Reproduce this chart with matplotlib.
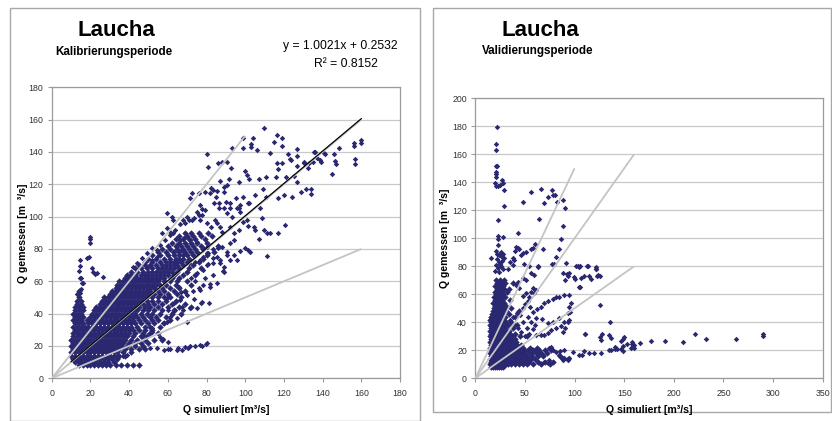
import matplotlib
matplotlib.use("Agg")
import matplotlib.pyplot as plt
from matplotlib.patches import Rectangle

plt.rcParams['font.family'] = ['Liberation Sans', 'DejaVu Sans']

# ---------------- Kalibrierungsperiode (left) ----------------
# dense cloud: observed level and the simulated values found at that level
cal_core_obs = [8, 10, 12, 14, 16, 18, 20, 22, 24, 26, 28, 30, 32, 34, 36, 38, 40, 42, 44,
                46, 48, 50, 52, 54, 56, 58, 60, 62, 64, 66, 68, 70, 72, 74, 76, 78, 80, 82,
                84, 86, 88, 90]
cal_core_sim = [
    [14, 16, 18, 20, 22, 24, 26, 28, 30, 33, 36, 39, 42, 45],
    [12, 14, 15, 17, 19, 21, 23, 25, 27, 29, 32],
    [11, 13, 15, 17, 19, 21, 23, 25, 27, 29, 31, 34],
    [10, 12, 14, 16, 18, 20, 22, 24, 26, 28, 30, 32, 35, 38],
    [10, 12, 14, 16, 18, 20, 22, 24, 26, 28, 30, 32, 34, 37, 41],
    [11, 13, 15, 17, 19, 21, 23, 25, 27, 29, 31, 33, 35, 38, 41, 45, 48],
    [10, 12, 14, 16, 18, 20, 22, 24, 26, 28, 30, 32, 34, 36, 39, 43, 47],
    [11, 13, 15, 17, 19, 21, 23, 25, 27, 29, 31, 33, 35, 37, 40, 43, 46, 50],
    [10, 12, 14, 16, 18, 20, 22, 24, 26, 28, 30, 32, 34, 36, 38, 41, 44, 48, 53, 57],
    [11, 13, 15, 17, 19, 21, 23, 25, 27, 29, 31, 33, 35, 37, 39, 42, 46, 49],
    [11, 13, 14, 16, 18, 20, 22, 24, 26, 28, 30, 32, 34, 36, 38, 40, 43, 47, 51, 55],
    [12, 14, 16, 18, 20, 22, 24, 26, 28, 30, 32, 34, 36, 38, 40, 42, 45, 48, 52],
    [11, 13, 15, 17, 19, 21, 23, 25, 27, 29, 31, 33, 35, 37, 39, 41, 44, 48, 51, 56],
    [12, 14, 16, 19, 21, 23, 25, 27, 29, 31, 33, 35, 37, 39, 41, 43, 46, 50, 53, 58],
    [11, 13, 15, 18, 20, 22, 24, 26, 28, 30, 32, 34, 36, 38, 40, 42, 45, 48, 52, 55, 61],
    [12, 14, 16, 20, 22, 24, 26, 28, 30, 32, 34, 36, 38, 40, 42, 44, 47, 51, 54, 59],
    [11, 13, 15, 21, 23, 25, 27, 29, 31, 33, 35, 37, 39, 41, 43, 46, 49, 52, 56, 62, 67],
    [12, 14, 16, 22, 24, 26, 28, 30, 32, 34, 36, 38, 40, 42, 44, 47, 50, 53, 57, 63],
    [12, 14, 16, 23, 25, 27, 29, 31, 33, 35, 37, 39, 41, 43, 45, 48, 51, 55, 60, 66, 72],
    [13, 15, 25, 27, 29, 31, 33, 35, 37, 39, 41, 43, 45, 47, 50, 53, 57, 62, 69],
    [13, 15, 26, 28, 30, 32, 34, 36, 38, 40, 42, 44, 46, 49, 52, 55, 59, 64],
    [14, 27, 29, 31, 33, 35, 37, 39, 41, 43, 45, 47, 49, 52, 55, 58, 61, 67],
    [30, 32, 34, 36, 38, 40, 42, 44, 46, 48, 50, 53, 56, 60, 65],
    [14, 31, 33, 35, 37, 39, 41, 43, 45, 47, 49, 51, 55, 58, 63, 69],
    [33, 35, 37, 39, 41, 43, 45, 47, 49, 51, 53, 57, 61, 66],
    [34, 36, 38, 40, 42, 44, 46, 48, 50, 52, 54, 56, 59, 64, 72],
    [35, 37, 39, 41, 43, 45, 47, 49, 51, 53, 55, 58, 61, 65, 70],
    [38, 40, 42, 44, 46, 48, 50, 52, 54, 56, 58, 62, 66],
    [39, 41, 43, 46, 48, 50, 52, 54, 56, 58, 60, 63, 68, 74],
    [41, 44, 47, 50, 52, 54, 56, 58, 60, 62, 65, 70],
    [43, 46, 49, 52, 55, 57, 59, 61, 63, 66, 71, 77],
    [45, 48, 51, 54, 57, 59, 61, 63, 65, 68, 73],
    [48, 52, 56, 59, 61, 63, 65, 67, 70, 76],
    [50, 54, 58, 61, 64, 66, 68, 71, 78],
    [52, 56, 60, 63, 66, 68, 70, 73, 80],
    [55, 59, 63, 66, 69, 72, 75, 84],
    [57, 61, 65, 68, 71, 74, 78],
    [60, 64, 67, 70, 73, 77, 86],
    [62, 66, 69, 72, 75, 80],
    [64, 68, 71, 74, 79],
    [66, 70, 73, 77, 83],
    [69, 72, 76, 81],
]

# scattered points outside the dense cloud (simulated, observed)
cal_scatter = [
    (109.5, 154.6), (99.1, 148.5), (103.8, 148.5), (116.2, 150.5), (119, 148.5), (115, 146.4),
    (119.1, 143.7), (103.1, 144.7), (103.1, 142.9), (93.4, 142.3), (99.1, 142.3), (106, 141.2),
    (112.6, 139.2), (121.9, 138.6), (126.7, 141.6), (126.7, 137.7), (123.3, 135.5), (130.2, 134),
    (130.5, 133), (135.3, 140.2), (138.8, 134.8), (139.3, 133.8), (141.4, 138.6), (146, 138.8),
    (146.2, 134.6), (147.1, 132.6), (148.3, 142.3), (144.8, 126.2), (156, 145.4), (156.4, 143.7),
    (156.6, 135.5), (156.9, 132.6), (159.8, 147.4), (160, 145.8), (80.5, 138.6), (81, 130.5),
    (86.2, 133.4), (87.9, 134), (90.5, 134), (92.6, 130.3), (99.7, 128.5), (100.9, 125.8),
    (102.1, 123.1), (96.6, 121.2), (87.1, 122.3), (91.4, 123.1), (106.9, 123.1), (110.9, 124.3),
    (116, 124.3), (116.4, 133), (119, 133.4), (116.7, 129.3), (123.8, 135), (121.2, 124.3),
    (125, 125.2), (126.7, 131.3), (126.7, 121.6), (132.8, 133), (132.2, 130.3), (135, 134),
    (136.2, 140.2), (137.1, 136.1), (140.5, 139.2), (129, 115.5), (131.2, 116.9), (133.8, 116.9),
    (133.8, 114), (110.9, 112.4), (116.9, 111.3), (119.8, 113.4), (124.1, 112.4), (109.1, 117.1),
    (105.2, 113.4), (101.4, 108.7), (102.2, 108.2), (97.4, 107.2), (95.7, 105.2), (97, 105.2),
    (99.1, 112), (95, 111.3), (92.4, 108.7), (90.2, 109.3), (86.4, 108.7), (84.1, 108.7),
    (85, 112.2), (83.3, 116.5), (82.4, 117.5), (81.6, 114.4), (85.3, 116.1), (89.3, 118.6),
    (90.5, 119.6), (88.8, 115), (79.2, 115.5), (86.7, 105.2), (89, 105.2), (91.9, 105.2),
    (107.8, 105.2), (76.7, 107.2), (77.6, 104.7), (71.6, 111.3), (72.4, 114.4), (75.9, 114.4),
    (75, 103.1), (75.9, 101), (67.8, 97.9), (69, 96.3), (63.8, 91.8), (62.9, 89.7), (61.2, 88.7),
    (66.4, 95.3), (69.8, 100), (70.7, 97.9), (72.4, 97.9), (73.3, 99), (76.4, 97.9), (77.6, 101),
    (79.3, 104.1), (80.2, 95.9), (82.2, 93.4), (84.5, 97.9), (85.3, 96.3), (87.1, 93.8),
    (88.1, 90.7), (92.2, 93.8), (94, 89.7), (96.6, 91.8), (90.5, 102.1), (93.1, 100), (97.4, 103.1),
    (99.1, 96.9), (100.9, 97.9), (101.7, 94.2), (104.3, 93.8), (105.2, 91.8), (108.6, 99),
    (109.5, 91.8), (111.2, 89.7), (112.9, 90.1), (117.2, 89.7), (120.7, 94.8), (106.9, 86),
    (111.2, 75.7), (101.7, 79.4), (102.6, 78.4), (97.4, 79), (100, 80.4), (92.2, 83.5), (94, 85.6),
    (88, 81.4), (90.5, 78.4), (85.3, 75.3), (87.1, 73.2), (94, 76.3), (95.7, 73.2), (83.6, 71.1),
    (80.2, 70.1), (92.2, 73.2), (88.8, 69.1), (83.6, 79.8), (86.2, 80.4), (80.2, 81.4),
    (77.6, 81.4), (75, 84.5), (71.6, 85.6), (69, 87.6), (66.4, 85.6), (65.5, 82.5), (67.2, 79.4),
    (62.9, 78.4), (60.3, 76.3), (78.4, 75.3), (81, 77.3), (76.7, 73.2), (74.1, 72.2), (70.7, 71.1),
    (54.3, 79.4), (56, 82.5), (58.6, 85.6), (61.2, 90.7), (59.5, 92.8), (56.9, 89.7), (51.7, 80.4),
    (49.1, 77.3), (46.6, 74.2), (44, 71.1), (45.7, 69.1), (42.2, 69.1), (51.7, 73.2), (54.3, 75.3),
    (62.9, 97.9), (62.1, 100), (59.5, 102),
    (19.8, 87.6), (19.8, 85.9), (19.8, 83.9), (18.5, 74.6), (14.4, 73.2), (14.4, 69.7),
    (14.1, 66.6), (15, 61.8), (16, 59), (19.5, 74.8), (20.7, 68), (21.5, 65.5), (22.4, 64.3),
    (26.7, 62.4), (14.6, 61.8), (15.5, 59.1), (23.3, 64.9), (14.5, 53), (15, 55.5), (13, 52),
    (69, 53.6), (73.3, 48.9), (77.2, 46.8), (81.4, 46.4), (88.4, 66.6), (81, 71), (83.6, 64),
    (78.4, 57.7), (82, 58.6), (73, 54), (76, 56), (66, 56.7), (67, 53.6), (60, 42.3), (63, 46.4),
    (59.5, 49.5), (69.8, 35), (63.8, 42.3), (68.1, 42.3), (71.5, 43.3), (77.6, 47.4), (66.4, 48.5),
    (69.8, 51.5), (76.7, 54.6), (81.9, 56.7), (85.3, 58.8), (88.8, 66), (87.1, 71.1), (90.5, 76.3),
    (83.6, 74.2), (80.2, 77.3), (75, 43.3), (67.2, 44.3), (61.2, 38.1), (62.9, 41.2), (57.7, 34),
    (59.5, 35), (64.6, 37.1), (72, 62), (75, 65), (78, 67), (70, 66), (66, 62), (74, 60), (79, 62),
    (30, 13.8), (33.6, 13.8), (37, 13.8), (38.8, 14.5), (47.4, 19.5), (50.9, 18.5), (54.3, 18.5),
    (57.8, 17.5), (60.3, 18), (64.6, 17.5), (67.2, 17.8), (70.6, 18.5), (74.1, 20), (77.5, 20),
    (79.9, 21.5), (61.2, 17.9), (65.4, 18.6), (69, 19.4), (71.5, 20.2), (76.6, 20.4), (80, 22.1),
    (57.7, 24.1), (60.3, 22.7), (56, 25.8), (51.7, 31), (51.7, 28.9), (46.6, 25.8), (47.4, 26.8),
]

cal_slope = 1.0021
cal_intercept = 0.2532
cal_r2 = 0.8152
cal_fit_range = [10, 160]

# ---------------- Validierungsperiode (right) ----------------
val_core_obs = [8, 10, 12, 14, 16, 18, 20, 22, 24, 26, 28, 30, 32, 34, 36, 38, 40, 42, 44,
                46, 48, 50, 52, 54, 56, 58, 60, 62, 64, 66, 68, 70]
val_core_sim = [
    [16, 18, 20, 22, 24, 26, 28],
    [15, 17, 19, 21, 23, 25, 27, 29, 31, 33, 36, 40, 44, 48, 52, 58, 66, 75],
    [16, 18, 20, 22, 24, 26, 28, 30, 32, 34, 37, 40, 43, 46, 50, 54, 63, 70, 78],
    [15, 17, 19, 21, 23, 25, 27, 29, 31, 33, 35, 38, 41, 44, 47, 51, 56, 60, 88, 93],
    [16, 18, 20, 22, 24, 26, 28, 30, 32, 34, 36, 39, 42, 45, 48, 52, 57, 63, 68, 85],
    [15, 17, 19, 21, 23, 25, 27, 29, 31, 33, 35, 38, 41, 44, 47, 50, 55, 61, 66, 72],
    [16, 18, 20, 22, 24, 26, 28, 30, 32, 34, 36, 39, 42, 45, 49, 53, 58, 64, 70, 76],
    [15, 17, 19, 21, 23, 25, 27, 29, 31, 33, 36, 40, 44, 48, 55, 62],
    [16, 18, 20, 22, 24, 26, 28, 30, 32, 35, 38, 42, 46],
    [15, 17, 19, 21, 23, 25, 27, 29, 31, 34, 37, 41],
    [16, 18, 20, 22, 24, 26, 28, 30, 33, 36, 40],
    [15, 17, 19, 21, 23, 25, 27, 30, 33, 37, 45, 52],
    [16, 18, 20, 22, 24, 26, 29, 32, 35, 40],
    [15, 17, 19, 21, 23, 25, 28, 31, 34],
    [16, 18, 20, 22, 24, 27, 30, 38],
    [15, 17, 19, 21, 23, 26, 29, 33, 42],
    [16, 18, 20, 22, 24, 27, 31, 36],
    [15, 17, 19, 22, 25, 28],
    [16, 18, 20, 23, 26, 30, 40],
    [17, 19, 22, 25, 28, 34],
    [18, 21, 24, 27, 31, 44],
    [19, 22, 25, 29, 36],
    [20, 23, 27, 31],
    [18, 21, 25, 29],
    [20, 23, 27, 35],
    [19, 22, 26, 30],
    [21, 24, 28],
    [20, 23, 27, 32],
    [22, 25, 29, 34],
    [20, 24, 28],
    [22, 26, 30, 38],
    [21, 25, 29],
]

val_scatter = [
    (21.5, 179.3), (20.8, 167.4), (20.8, 163), (20.8, 151.6), (22.2, 151.6), (20.8, 147.6),
    (20.8, 146), (20.8, 144), (19.8, 139.3), (20.8, 137.6), (23.2, 137.4), (24.9, 138.1),
    (27.2, 141.7), (27.6, 139.3), (28.9, 134.5), (29.2, 123), (23.2, 113), (23.2, 101.6),
    (23.2, 99.3), (27.6, 101.1), (22.5, 95.2), (15.5, 85.7),
    (21, 91), (22, 89), (24, 88), (26, 90), (27, 87), (28, 89), (22, 85), (24, 83), (25, 82),
    (27, 84), (29, 86), (21, 81), (23, 79), (26, 80), (28, 78), (20, 77), (24, 76),
    (43.4, 104), (48.4, 126.1), (56.1, 133.4), (66.1, 135.1), (68.8, 124.9), (72.9, 129.2),
    (77.3, 134.2), (77.9, 130.6), (80.6, 130.6), (81.9, 126.1), (88.6, 127.3), (90.3, 121.4),
    (88.6, 108.8), (86.4, 99.3), (84.4, 92.1), (81.3, 86.9), (77.3, 81.7), (79.3, 81.7),
    (91.3, 82.7), (101.4, 80.5), (104.8, 79.8), (113.2, 80.5), (121.6, 77.8), (64.5, 113.5),
    (68.5, 92.1), (60.5, 95.9), (56.1, 92.1), (57.8, 93.3), (51.1, 90.5), (47.7, 89.3), (46, 88.3),
    (40.4, 91.2), (42.7, 92.8), (44.4, 92.1), (41, 94), (39.3, 84.5), (37.7, 80.9), (54.4, 80.2),
    (62.8, 80.2), (49.4, 81.9), (35, 83), (38, 86), (33, 78),
    (289.5, 32), (290, 30), (262.6, 28.3), (232.4, 28), (221.7, 32), (209.3, 26), (191.6, 26.7),
    (177, 26.8), (166, 25), (157.8, 24.5), (159.2, 22.8), (160.2, 21.4), (156.7, 21.6),
    (153.1, 24.5), (157.6, 26.1), (159.9, 24), (150.3, 29.2), (149.2, 28), (146.6, 26.5),
    (148.5, 23), (146.8, 20.7), (148.5, 19.7), (141.1, 22.1), (142.5, 21.1), (136.7, 20.2),
    (134.4, 20.2), (136.4, 28.6), (126.7, 27.4), (125.7, 29.2), (135, 30.9), (135.7, 40.4),
    (127.3, 31.4), (110.5, 31.4), (126.7, 17.8), (120, 18.3), (114.2, 18.3), (109.8, 19.7),
    (104.1, 16.7), (107.8, 16.6), (140.7, 20.7), (98.1, 19), (89.7, 20.2), (85.3, 19.7),
    (111, 31.6), (125.7, 52.6),
    (105.5, 80.2), (112.8, 80.5), (106.5, 71.4), (109.5, 73.1), (114.5, 73.1), (116.5, 70.7),
    (121.3, 77.9), (122.3, 73.1), (123.9, 74), (125.6, 73.3), (105.5, 65),
    (94.7, 59.5), (89.7, 59.5), (84.7, 58.3), (81.3, 57.8), (77.9, 56.4), (72.9, 55.4),
    (69.5, 53.5), (66.1, 51.2), (61.8, 49.2), (58.4, 47.6), (96.4, 53.5), (94.7, 51.2),
    (95.4, 47.6), (93.1, 46.4), (94.7, 41.6), (93.1, 40.4), (89.7, 40.4), (84.7, 42.8),
    (77.9, 40.4), (72.9, 39.3), (67.2, 42.1), (61.2, 42.8), (86.4, 37.4), (81.3, 35.7),
    (76.3, 34.5), (72.9, 32.6), (69.5, 30.9), (66.1, 30.9), (61.2, 30.9), (88, 33.3), (90.7, 35.7),
    (86.4, 15.4), (88, 13.1), (89.7, 14.3), (84.7, 16.7), (94.7, 14.3), (93.1, 13.1), (74.6, 13.1),
    (77.9, 11.9), (72.9, 10.7), (69.5, 11.9), (66.1, 10.2), (62.8, 11.9), (77.9, 20.2), (81.3, 19),
    (76.3, 22.6), (74.6, 21.4), (67.8, 16.7), (64.5, 19), (61.2, 20.2), (57.8, 19), (54.4, 13.6),
    (51.1, 12.6), (44.4, 14.3), (48.4, 71.4), (51.1, 70.2), (56.1, 75.4), (59.5, 73.8),
    (62.8, 79.7), (57.8, 64.3), (56.1, 61.8), (51.1, 60.7), (47.7, 58.8), (54.4, 58.3),
    (59.5, 60.7), (61.2, 63.1), (41, 66.7), (42.7, 69), (44.4, 64.3),
    (94.7, 75.4), (92, 74.2), (93.1, 73), (90.7, 70.2), (88, 75.4), (99.8, 72.6), (100.8, 70.7),
    (104.8, 65.5), (103.1, 80.2), (121.6, 79.3),
    (50, 53), (53, 55), (48, 50), (55, 51), (42, 47), (45, 45), (38, 44), (40, 38), (35, 42),
    (43, 36), (46, 33), (50, 30), (54, 32), (52, 36), (48, 40), (56, 40), (58, 35), (53, 44), (60, 38),
]

# reference lines from the origin: ratio and end point on the x axis
ref_ratios = [1.5, 1.0, 0.5]
ref_x_end = [100, 160, 160]

DOT = '#2a2870'
GRID = '#c8c8c8'
REF = '#c4c4c4'
SPINE = '#9a9a9a'
TICKC = '#333333'

W, H = 832, 421
fig = plt.figure(figsize=(W / 100, H / 100), dpi=100)


def px_axes(x0, y0, x1, y1):
    return fig.add_axes([x0 / W, 1 - y1 / H, (x1 - x0) / W, (y1 - y0) / H])


def frame(x0, y0, x1, y1):
    fig.patches.append(Rectangle((x0 / W, 1 - y1 / H), (x1 - x0) / W, (y1 - y0) / H,
                                 transform=fig.transFigure, fill=False,
                                 edgecolor='#a8a8a8', lw=1.0))


def flatten(levels, rows):
    xs, ys = [], []
    for lvl, row in zip(levels, rows):
        for v in row:
            xs.append(v)
            ys.append(lvl)
    return xs, ys


def style(ax, xmax, xstep, ymax, ystep):
    ax.set_xlim(0, xmax)
    ax.set_ylim(0, ymax)
    ax.set_xticks(range(0, xmax + 1, xstep))
    ax.set_yticks(range(0, ymax + 1, ystep))
    ax.yaxis.grid(True, color=GRID, lw=0.9)
    ax.xaxis.grid(False)
    ax.set_axisbelow(True)
    for s in ax.spines.values():
        s.set_color(SPINE)
        s.set_linewidth(0.9)
    ax.tick_params(axis='both', direction='out', length=3, width=0.8, color=SPINE,
                   labelsize=6.3, labelcolor=TICKC, pad=3)
    ax.tick_params(axis='x', pad=5)


def draw(ax, core_obs, core_sim, scatter):
    cx, cy = flatten(core_obs, core_sim)
    sx = [p[0] for p in scatter]
    sy = [p[1] for p in scatter]
    # the dense cloud uses slightly larger diamonds so that the overlap reads as solid
    ax.plot(cx, cy, linestyle='none', marker='D', ms=3.3, mew=0, color=DOT, zorder=3)
    ax.plot(sx, sy, linestyle='none', marker='D', ms=2.8, mew=0, color=DOT, zorder=3)
    for r, xe in zip(ref_ratios, ref_x_end):
        ax.plot([0, xe], [0, r * xe], color=REF, lw=1.3, zorder=4,
                solid_capstyle='butt')


# ---- left panel ----
frame(9.5, 7.5, 420, 420.5)
axl = px_axes(51.7, 87.3, 400, 378.3)
style(axl, 180, 20, 180, 20)
draw(axl, cal_core_obs, cal_core_sim, cal_scatter)
fx = cal_fit_range
axl.plot(fx, [cal_slope * v + cal_intercept for v in fx], color='black', lw=0.9, zorder=5)

fig.text(116 / W, 1 - 30 / H, 'Laucha', ha='center', va='center', fontsize=16,
         fontweight='bold')
fig.text(114 / W, 1 - 52 / H, 'Kalibrierungsperiode', ha='center', va='center',
         fontsize=8.4, fontweight='bold')
fig.text(340 / W, 1 - 46 / H, f'y = {cal_slope:.4f}x + {cal_intercept:.4f}', ha='center',
         va='center', fontsize=8.7)
fig.text(346 / W, 1 - 64 / H, f'R² = {cal_r2:.4f}', ha='center', va='center', fontsize=8.7)
fig.text(226 / W, 1 - 410 / H, 'Q simuliert [m³/s]', ha='center', va='center',
         fontsize=7.6, fontweight='bold')
fig.text(23 / W, 1 - 233 / H, 'Q gemessen [m  ³/s]', ha='center', va='center',
         fontsize=7.6, fontweight='bold', rotation=90)

# ---- right panel ----
frame(433, 7.5, 831, 412)
axr = px_axes(475.3, 98.3, 822.7, 378.3)
style(axr, 350, 50, 200, 20)
draw(axr, val_core_obs, val_core_sim, val_scatter)

fig.text(540 / W, 1 - 30 / H, 'Laucha', ha='center', va='center', fontsize=16,
         fontweight='bold')
fig.text(538 / W, 1 - 51 / H, 'Validierungsperiode', ha='center', va='center',
         fontsize=8.4, fontweight='bold')
fig.text(649 / W, 1 - 410 / H, 'Q simuliert [m³/s]', ha='center', va='center',
         fontsize=7.6, fontweight='bold')
fig.text(445 / W, 1 - 238 / H, 'Q gemessen [m  ³/s]', ha='center', va='center',
         fontsize=7.6, fontweight='bold', rotation=90)

fig.savefig('out.png', dpi=100)
